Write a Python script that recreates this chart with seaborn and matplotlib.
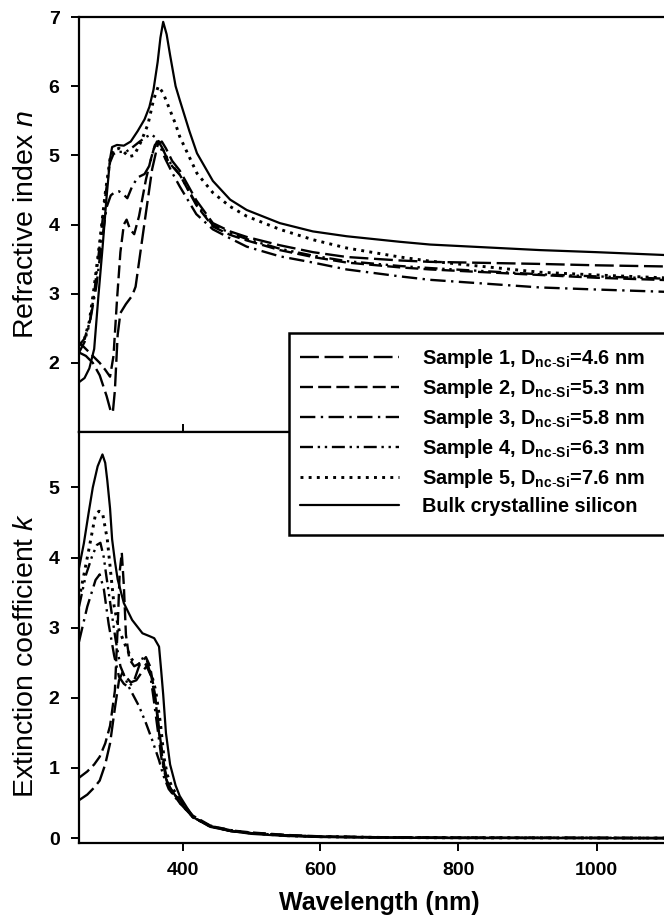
import matplotlib
matplotlib.use("Agg")
import matplotlib.pyplot as plt
from matplotlib.patches import Rectangle
import seaborn as sns
import pandas as pd

# ---------------- data ----------------
labels = [
    r"Sample 1, D$_{\mathbf{nc}\text{-}\mathbf{Si}}$=4.6 nm",
    r"Sample 2, D$_{\mathbf{nc}\text{-}\mathbf{Si}}$=5.3 nm",
    r"Sample 3, D$_{\mathbf{nc}\text{-}\mathbf{Si}}$=5.8 nm",
    r"Sample 4, D$_{\mathbf{nc}\text{-}\mathbf{Si}}$=6.3 nm",
    r"Sample 5, D$_{\mathbf{nc}\text{-}\mathbf{Si}}$=7.6 nm",
    "Bulk crystalline silicon",
]

# refractive index n
wl_n1 = [250, 260, 270, 280, 290, 296, 299, 302, 306, 310, 318, 327, 332, 339, 347, 356, 364, 370, 376, 385, 396, 420, 444, 469, 493, 541, 589, 638, 715, 759, 918, 1000, 1120]
n_s1 = [2.15, 2.10, 2.00, 1.82, 1.52, 1.30, 1.28, 1.60, 2.40, 2.72, 2.85, 2.97, 3.10, 3.60, 4.17, 4.80, 5.15, 5.20, 5.10, 4.92, 4.78, 4.35, 4.02, 3.90, 3.82, 3.70, 3.60, 3.53, 3.48, 3.46, 3.43, 3.41, 3.39]

wl_n2 = [250, 260, 270, 280, 288, 295, 300, 305, 310, 315, 319, 324, 330, 337, 347, 354, 360, 366, 372, 380, 396, 420, 444, 469, 493, 541, 589, 638, 715, 759, 918, 1000, 1120]
n_s2 = [2.30, 2.20, 2.10, 2.00, 1.90, 1.80, 2.10, 2.90, 3.60, 4.00, 4.07, 3.93, 3.86, 4.12, 4.65, 4.94, 5.15, 5.20, 5.08, 4.90, 4.72, 4.28, 3.97, 3.85, 3.77, 3.63, 3.53, 3.45, 3.38, 3.35, 3.27, 3.23, 3.19]

wl_n3 = [250, 258, 266, 275, 283, 290, 296, 302, 308, 314, 320, 327, 335, 345, 352, 358, 363, 368, 375, 385, 396, 420, 444, 469, 493, 541, 589, 638, 715, 759, 918, 1000, 1120]
n_s3 = [2.25, 2.35, 2.60, 3.10, 3.75, 4.25, 4.42, 4.47, 4.48, 4.44, 4.38, 4.55, 4.68, 4.73, 4.85, 5.08, 5.20, 5.12, 4.95, 4.75, 4.55, 4.15, 3.93, 3.80, 3.68, 3.54, 3.45, 3.35, 3.25, 3.20, 3.09, 3.06, 3.02]

wl_n4 = [250, 258, 265, 272, 280, 288, 295, 300, 308, 318, 328, 338, 348, 355, 362, 370, 380, 396, 420, 444, 469, 493, 541, 589, 638, 715, 759, 918, 1000, 1120]
n_s4 = [2.15, 2.30, 2.55, 3.00, 3.70, 4.40, 4.90, 5.02, 5.05, 5.05, 5.12, 5.20, 5.27, 5.30, 5.25, 5.12, 4.92, 4.72, 4.30, 3.99, 3.88, 3.79, 3.65, 3.55, 3.47, 3.40, 3.37, 3.28, 3.25, 3.21]

wl_n5 = [250, 258, 265, 272, 280, 288, 295, 300, 308, 315, 322, 330, 340, 350, 358, 365, 372, 380, 390, 396, 421, 444, 469, 493, 541, 589, 638, 715, 759, 918, 1000, 1120]
n_s5 = [2.25, 2.35, 2.60, 3.10, 3.75, 4.45, 4.95, 5.08, 5.10, 5.05, 4.98, 5.00, 5.20, 5.45, 5.80, 6.00, 5.90, 5.70, 5.45, 5.27, 4.74, 4.46, 4.26, 4.12, 3.93, 3.78, 3.66, 3.53, 3.47, 3.31, 3.27, 3.22]

wl_nb = [250, 258, 265, 272, 278, 284, 290, 295, 298, 305, 315, 325, 335, 345, 352, 358, 364, 368, 372, 377, 382, 390, 396, 410, 421, 444, 469, 493, 541, 589, 638, 715, 759, 918, 1000, 1120]
n_bulk = [1.72, 1.78, 1.92, 2.20, 2.95, 3.65, 4.40, 4.95, 5.12, 5.15, 5.14, 5.20, 5.35, 5.52, 5.70, 5.95, 6.35, 6.70, 6.93, 6.75, 6.45, 6.00, 5.80, 5.35, 5.03, 4.63, 4.36, 4.21, 4.02, 3.90, 3.83, 3.75, 3.71, 3.63, 3.60, 3.55]

# extinction coefficient k
wl_k1 = [250, 262, 272, 280, 288, 295, 302, 308, 313, 318, 325, 333, 340, 348, 355, 362, 368, 374, 380, 390, 396, 415, 440, 470, 500, 550, 600, 700, 800, 1000, 1120]
k_s1 = [0.54, 0.62, 0.72, 0.82, 1.05, 1.35, 1.85, 2.25, 2.36, 2.30, 2.22, 2.25, 2.35, 2.45, 2.30, 1.90, 1.40, 1.00, 0.75, 0.60, 0.52, 0.30, 0.17, 0.10, 0.07, 0.04, 0.02, 0.01, 0.005, 0.002, 0.0]

wl_k2 = [250, 262, 272, 280, 288, 295, 302, 306, 309, 312, 315, 318, 323, 330, 340, 347, 353, 360, 366, 372, 378, 388, 396, 415, 440, 470, 500, 550, 600, 700, 800, 1000, 1120]
k_s2 = [0.86, 0.95, 1.05, 1.16, 1.35, 1.60, 2.10, 3.00, 3.80, 4.07, 3.60, 2.90, 2.55, 2.45, 2.50, 2.58, 2.45, 2.05, 1.50, 1.05, 0.78, 0.62, 0.55, 0.32, 0.18, 0.11, 0.08, 0.045, 0.025, 0.01, 0.006, 0.003, 0.0]

wl_k3 = [250, 262, 274, 280, 286, 293, 301, 308, 315, 322, 330, 337, 343, 348, 353, 358, 364, 370, 376, 385, 396, 415, 440, 470, 500, 550, 600, 700, 800, 1000, 1120]
k_s3 = [2.80, 3.30, 3.68, 3.76, 3.55, 3.05, 2.60, 2.30, 2.20, 2.15, 2.25, 2.45, 2.58, 2.55, 2.35, 2.00, 1.55, 1.10, 0.85, 0.65, 0.50, 0.30, 0.17, 0.10, 0.07, 0.04, 0.02, 0.01, 0.005, 0.002, 0.0]

wl_k4 = [250, 260, 269, 276, 281, 286, 289, 296, 303, 310, 322, 337, 347, 356, 366, 372, 380, 396, 415, 440, 470, 500, 550, 600, 700, 800, 1000, 1120]
k_s4 = [3.30, 3.75, 4.02, 4.18, 4.21, 4.00, 3.78, 3.30, 2.83, 2.45, 2.16, 1.88, 1.64, 1.40, 1.11, 0.90, 0.70, 0.50, 0.30, 0.17, 0.10, 0.07, 0.04, 0.02, 0.01, 0.005, 0.002, 0.0]

wl_k5 = [250, 257, 264, 274, 279, 284, 291, 296, 301, 308, 318, 327, 336, 344, 350, 356, 361, 368, 373, 378, 385, 396, 415, 440, 470, 500, 550, 600, 700, 800, 1000, 1120]
k_s5 = [3.40, 3.75, 4.10, 4.62, 4.66, 4.64, 4.26, 3.78, 3.30, 2.97, 2.73, 2.54, 2.48, 2.50, 2.45, 2.30, 2.11, 1.64, 1.16, 0.90, 0.72, 0.55, 0.30, 0.17, 0.11, 0.07, 0.035, 0.02, 0.008, 0.004, 0.002, 0.0]

wl_kb = [250, 257, 264, 270, 277, 284, 288, 291, 295, 298, 302, 306, 315, 327, 342, 352, 359, 366, 369, 372, 376, 382, 390, 396, 415, 440, 470, 500, 550, 600, 700, 800, 1000, 1120]
k_bulk = [3.85, 4.20, 4.64, 5.00, 5.30, 5.47, 5.35, 5.10, 4.70, 4.26, 3.95, 3.69, 3.35, 3.11, 2.92, 2.88, 2.85, 2.73, 2.40, 2.05, 1.50, 1.05, 0.75, 0.60, 0.30, 0.16, 0.10, 0.06, 0.03, 0.015, 0.005, 0.0, 0.0, 0.0]

x_ticks = [400, 600, 800, 1000]
n_ticks = [2, 3, 4, 5, 6, 7]
k_ticks = [0, 1, 2, 3, 4, 5]

# ---------------- styling ----------------
sns.set_style("ticks")
plt.rcParams["font.family"] = ["Liberation Sans", "DejaVu Sans"]
plt.rcParams.update({
    "mathtext.fontset": "custom",
    "mathtext.rm": "Liberation Sans",
    "mathtext.it": "Liberation Sans:italic",
    "mathtext.bf": "Liberation Sans:bold",
    "axes.edgecolor": "black",
    "axes.labelcolor": "black",
    "text.color": "black",
    "axes.linewidth": 1.6,
    "xtick.color": "black",
    "ytick.color": "black",
    "xtick.labelcolor": "black",
    "ytick.labelcolor": "black",
})

styles = [
    dict(linestyle=(0, (8, 2.4)), lw=1.7),
    dict(linestyle=(0, (5.5, 2.2)), lw=1.7),
    dict(linestyle=(0, (6.5, 2.3, 1, 2.3)), lw=1.7),
    dict(linestyle=(0, (5.5, 2, 1, 2, 1, 2)), lw=1.7),
    dict(linestyle=(0, (1, 1.8)), lw=2.1),
    dict(linestyle="-", lw=1.6),
]

W, H = 664, 916
fig = plt.figure(figsize=(W / 100, H / 100), dpi=100)
ax1 = fig.add_axes([79 / W, 1 - 432 / H, 600 / W, 415 / H])
ax2 = fig.add_axes([79 / W, 1 - 843 / H, 600 / W, 411 / H])

n_sets = [(wl_n1, n_s1), (wl_n2, n_s2), (wl_n3, n_s3), (wl_n4, n_s4), (wl_n5, n_s5), (wl_nb, n_bulk)]
k_sets = [(wl_k1, k_s1), (wl_k2, k_s2), (wl_k3, k_s3), (wl_k4, k_s4), (wl_k5, k_s5), (wl_kb, k_bulk)]

for (wl, vals), st, lab in zip(n_sets, styles, labels):
    df = pd.DataFrame({"wl": wl, "v": vals})
    sns.lineplot(data=df, x="wl", y="v", ax=ax1, color="black", label=lab,
                 estimator=None, sort=False, legend=False, **st)
for (wl, vals), st, lab in zip(k_sets, styles, labels):
    df = pd.DataFrame({"wl": wl, "v": vals})
    sns.lineplot(data=df, x="wl", y="v", ax=ax2, color="black",
                 estimator=None, sort=False, legend=False, **st)

xmax = 250 + 600 / 0.69
for ax in (ax1, ax2):
    ax.set_xlim(250, xmax)
    ax.set_xticks(x_ticks)
    for s in ax.spines.values():
        s.set_linewidth(1.6)

ax1.set_ylim(1, 7)
ax1.set_yticks(n_ticks)
ax2.set_ylim(-0.07, 5.79)
ax2.set_yticks(k_ticks)

ax1.tick_params(axis="x", direction="in", length=6, width=1.4, labelbottom=False)
ax1.tick_params(axis="y", direction="out", length=6, width=1.4, pad=8, labelsize=14)
ax2.tick_params(axis="both", direction="out", length=6, width=1.4, pad=8, labelsize=14)
for ax in (ax1, ax2):
    for t in ax.get_xticklabels() + ax.get_yticklabels():
        t.set_fontweight("bold")

ax1.set_xlabel("")
ax1.set_ylabel(r"Refractive index $\mathit{n}$", fontsize=20.5)
ax2.set_ylabel(r"Extinction coefficient $\mathit{k}$", fontsize=20.5)
ax1.yaxis.set_label_coords(-0.066, 0.5)
ax2.yaxis.set_label_coords(-0.066, 0.457)
ax2.set_xlabel("Wavelength (nm)", fontsize=18, fontweight="bold", labelpad=8)

# legend box (the reference box runs past the right edge of the figure)
box = Rectangle((289 / W, 1 - 535 / H), 420 / W, (535 - 333) / H,
                transform=fig.transFigure, facecolor="white", edgecolor="black",
                linewidth=1.8, zorder=4)
fig.patches.append(box)

handles, labs = ax1.get_legend_handles_labels()
leg = fig.legend(handles, labs, loc="upper left",
                 bbox_to_anchor=(286 / W, 1 - 333 / H),
                 prop={"family": "Liberation Sans", "weight": "bold", "size": 14.3},
                 frameon=False,
                 handlelength=5.0, handletextpad=1.15, borderpad=0.7,
                 labelspacing=0.35, borderaxespad=0)
leg.set_zorder(5)

fig.savefig("out.png", dpi=100)
